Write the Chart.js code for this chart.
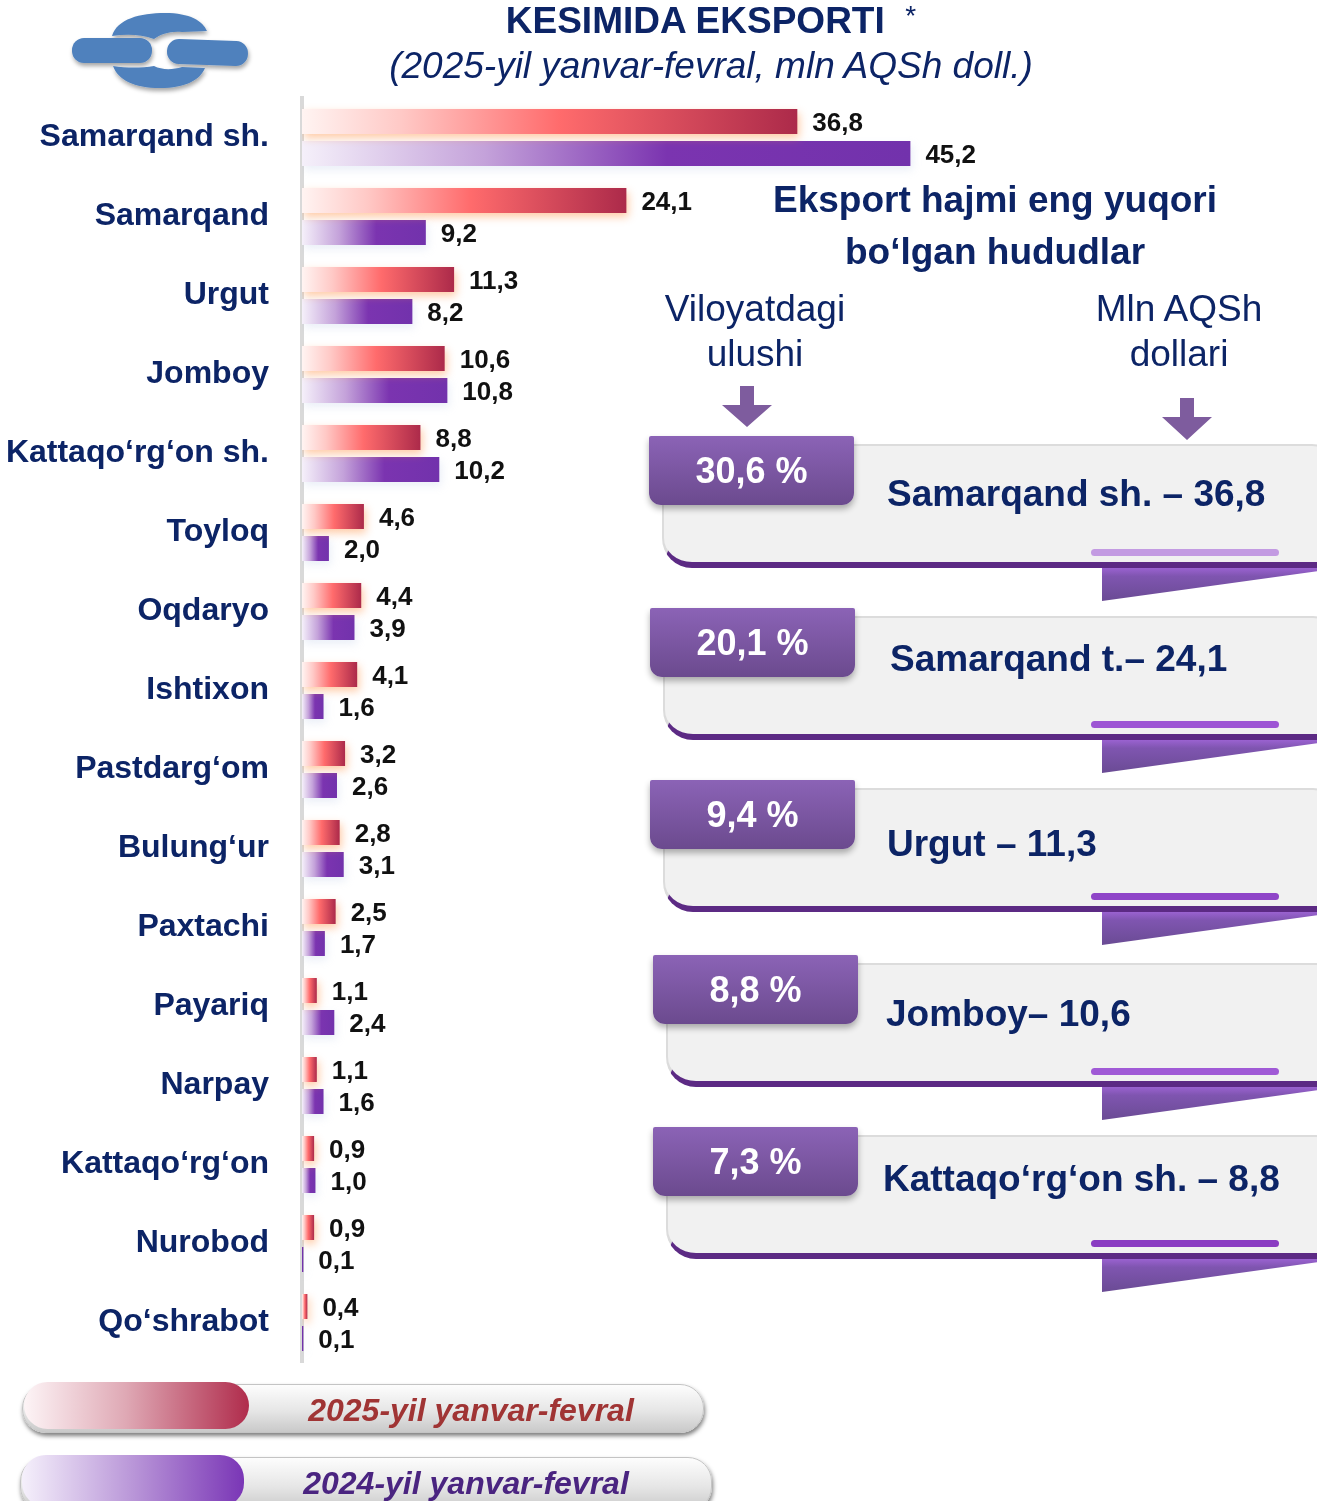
<!DOCTYPE html>
<html lang="uz">
<head>
<meta charset="UTF-8">
<title>Kesimida eksporti</title>
<script src="https://cdn.jsdelivr.net/npm/chart.js"></script>
<style>
    body { margin: 0; background: #fff; font-family: 'Liberation Sans', Arial, sans-serif; }
    #page { position: relative; width: 1317px; height: 1501px; overflow: hidden; background: #fff; }
    #chart { position: absolute; left: 0; top: 0; }
    .txt { position: absolute; white-space: nowrap; transform: translate(-50%, -50%); color: #0c2466; line-height: 1; }
    .b { font-weight: bold; }
    .tab { position: absolute; width: 205px; height: 69px; background: linear-gradient(#8b63b6, #6b4a8e); border-radius: 2px 2px 12px 12px; box-shadow: 0 4px 6px rgba(0,0,0,0.3); color: #fff; font-weight: bold; font-size: 36px; display: flex; align-items: center; justify-content: center; z-index: 2; }
    .card { position: absolute; width: 690px; height: 124px; background: #f1f1f1; border: 2px solid #dcdcdc; border-bottom: 6px solid #5c2a84; border-radius: 0 40px 0 30px; box-sizing: border-box; }
    .cardtxt { position: absolute; white-space: nowrap; transform: translateY(-50%); color: #0c2466; font-weight: bold; font-size: 37px; line-height: 1; z-index: 3; }
    .pill { position: absolute; left: 1091px; width: 188px; height: 7px; border-radius: 4px; }
    .fold { position: absolute; left: 1102px; width: 215px; height: 33px; background: linear-gradient(#9a62d0 0%, #7f55b0 25%, #6a4b94 100%); clip-path: polygon(0 0, 100% 0, 100% 10%, 0 100%); }
    .leg { position: absolute; height: 47px; border-radius: 24px; background: linear-gradient(#fdfdfd, #e6e6e6 55%, #c9c9c9); border: 1px solid #c4c4c4; box-shadow: 1px 3px 4px rgba(0,0,0,0.5); }
    .legc { position: absolute; left: 1px; top: -3px; height: 47px; border-radius: 24px; }
    .legt { position: absolute; top: 50%; transform: translate(-50%, -50%); font-weight: bold; font-style: italic; font-size: 32px; white-space: nowrap; }
</style>
</head>
<body>
<div id="page">
    <canvas id="chart" width="1317" height="1501"></canvas>

    <svg style="position:absolute;left:0;top:0" width="300" height="100">
        <defs>
            <filter id="sh" x="-20%" y="-20%" width="140%" height="160%">
                <feDropShadow dx="1" dy="3" stdDeviation="2" flood-color="#000" flood-opacity="0.35"/>
            </filter>
        </defs>
        <g fill="#4f81bd" filter="url(#sh)">
            <path d="M112,36 C117,19 140,13 165,13 C190,13 203,21 207,31 L182,32 C170,31 161,34 154,39 C140,34 126,34 112,36 Z"/>
            <rect x="72" y="38" width="80" height="25" rx="12"/>
            <rect x="167" y="40" width="81" height="25" rx="12" transform="rotate(2 207 52)"/>
            <path d="M113,66 C127,68 141,68 154,66 C162,70 172,70 182,67 L205,68 C200,80 186,88 160,88 C134,88 118,80 113,66 Z"/>
        </g>
    </svg>

    <div class="txt b" style="left:711px;top:20px;font-size:37px">KESIMIDA EKSPORTI&nbsp;&nbsp;<span style="font-weight:normal;font-size:28px;vertical-align:top">*</span></div>
    <div class="txt" style="left:711px;top:65px;font-size:37px;font-style:italic">(2025-yil yanvar-fevral, mln AQSh doll.)</div>

    <div class="txt b" style="left:995px;top:199px;font-size:37px">Eksport hajmi eng yuqori</div>
    <div class="txt b" style="left:995px;top:251px;font-size:37px">bo‘lgan hududlar</div>
    <div class="txt" style="left:755px;top:308px;font-size:37px">Viloyatdagi</div>
    <div class="txt" style="left:755px;top:353px;font-size:37px">ulushi</div>
    <div class="txt" style="left:1179px;top:308px;font-size:37px">Mln AQSh</div>
    <div class="txt" style="left:1179px;top:353px;font-size:37px">dollari</div>

    <svg style="position:absolute;left:0;top:0;pointer-events:none" width="1317" height="460">
        <polygon fill="#7e5c9e" points="740,386 754,386 754,405 772,405 747,427 722,405 740,405"/>
        <polygon fill="#7e5c9e" points="1180,398 1194,398 1194,417 1212,417 1187,440 1162,417 1180,417"/>
    </svg>

    <div id="cards"></div>

    <div class="leg" style="left:22px;top:1384px;width:680px">
        <div class="legc" style="width:225px;background:linear-gradient(90deg,#fdf4f6,#dfa9b5 45%,#b02c4c)"></div>
        <div class="legt" id="leg0" style="left:448px;top:25px;color:#a03434"></div>
    </div>
    <div class="leg" style="left:20px;top:1457px;width:690px;height:52px">
        <div class="legc" style="width:222px;height:52px;background:linear-gradient(90deg,#f5f0fb,#b996d8 50%,#7a36b6)"></div>
        <div class="legt" id="leg1" style="left:445px;top:25px;color:#4a2480"></div>
    </div>
</div>

<script>
    // datos
    const categories = ['Samarqand sh.', 'Samarqand', 'Urgut', 'Jomboy', 'Kattaqo‘rg‘on sh.', 'Toyloq', 'Oqdaryo', 'Ishtixon',
        'Pastdarg‘om', 'Bulung‘ur', 'Paxtachi', 'Payariq', 'Narpay', 'Kattaqo‘rg‘on', 'Nurobod', 'Qo‘shrabot'];
    const values2025 = [36.8, 24.1, 11.3, 10.6, 8.8, 4.6, 4.4, 4.1, 3.2, 2.8, 2.5, 1.1, 1.1, 0.9, 0.9, 0.4];
    const values2024 = [45.2, 9.2, 8.2, 10.8, 10.2, 2.0, 3.9, 1.6, 2.6, 3.1, 1.7, 2.4, 1.6, 1.0, 0.1, 0.1];
    const seriesNames = ['2025-yil yanvar-fevral', '2024-yil yanvar-fevral'];
    const topShares = ['30,6 %', '20,1 %', '9,4 %', '8,8 %', '7,3 %'];
    const topLabels = ['Samarqand sh. – 36,8', 'Samarqand t.– 24,1', 'Urgut – 11,3', 'Jomboy– 10,6', 'Kattaqo‘rg‘on sh. – 8,8'];

    // layout of the cards on the right
    const cardTop = [436, 608, 780, 955, 1127];
    const tabLeft = [649, 650, 650, 653, 653];
    const textLeft = [887, 890, 887, 886, 883];
    const textDy = [57, 50, 63, 58, 51];
    const pillColor = ['#c39be2', '#9d55d4', '#8f45c8', '#a05ad6', '#8a3cc2'];

    document.getElementById('leg0').textContent = seriesNames[0];
    document.getElementById('leg1').textContent = seriesNames[1];

    const cards = document.getElementById('cards');
    topShares.forEach((s, i) => {
        const t = cardTop[i];
        cards.insertAdjacentHTML('beforeend',
            `<div class="card" style="top:${t + 8}px;left:${tabLeft[i] + 13}px"></div>` +
            `<div class="pill" style="top:${t + 113}px;background:${pillColor[i]}"></div>` +
            `<div class="fold" style="top:${t + 132}px"></div>` +
            `<div class="tab" style="top:${t}px;left:${tabLeft[i]}px">${s}</div>` +
            `<div class="cardtxt" style="top:${t + textDy[i]}px;left:${textLeft[i]}px">${topLabels[i]}</div>`);
    });

    const fmt = v => v.toFixed(1).replace('.', ',');

    function barFill(c, stops) {
        const chart = c.chart;
        if (!chart.chartArea || c.type !== 'data') return stops[stops.length - 1][1];
        const x0 = chart.scales.x.getPixelForValue(0);
        const x1 = chart.scales.x.getPixelForValue(c.raw);
        if (x1 - x0 < 2) return stops[stops.length - 1][1];
        const g = chart.ctx.createLinearGradient(x0, 0, x1, 0);
        stops.forEach(s => g.addColorStop(s[0], s[1]));
        return g;
    }
    const redStops = [[0, '#fff4f2'], [0.2, '#ffc9c6'], [0.52, '#ff6b6c'], [1, '#ac2a4a']];
    const purpleStops = [[0, '#f5f0fa'], [0.3, '#c4a2da'], [0.6, '#7b34b0'], [1, '#7232ac']];

    // sombra de las barras
    const barShadow = {
        id: 'barShadow',
        beforeDatasetDraw(chart, args) {
            const ctx = chart.ctx;
            ctx.save();
            ctx.shadowColor = args.index === 0 ? 'rgba(255,140,60,0.45)' : 'rgba(160,180,220,0.22)';
            ctx.shadowBlur = 8;
            ctx.shadowOffsetX = 2;
            ctx.shadowOffsetY = 4;
        },
        afterDatasetDraw(chart) { chart.ctx.restore(); }
    };

    // etiquetas de valores
    const valueLabels = {
        id: 'valueLabels',
        afterDatasetsDraw(chart) {
            const ctx = chart.ctx;
            ctx.save();
            ctx.font = 'bold 26px "Liberation Sans", Arial, sans-serif';
            ctx.fillStyle = '#111';
            ctx.textBaseline = 'middle';
            ctx.textAlign = 'left';
            chart.data.datasets.forEach((ds, i) => {
                chart.getDatasetMeta(i).data.forEach((el, j) => {
                    ctx.fillText(fmt(ds.data[j]), el.x + 15, el.y + 2);
                });
            });
            ctx.restore();
        }
    };

    new Chart(document.getElementById('chart'), {
        type: 'bar',
        data: {
            labels: categories,
            datasets: [
                { label: seriesNames[0], data: values2025, backgroundColor: c => barFill(c, redStops) },
                { label: seriesNames[1], data: values2024, backgroundColor: c => barFill(c, purpleStops) }
            ]
        },
        options: {
            indexAxis: 'y',
            responsive: false,
            animation: false,
            events: [],
            datasets: { bar: { categoryPercentage: 0.81, barPercentage: 0.78 } },
            layout: { padding: { top: 98, bottom: 139, left: 0, right: 342 } },
            plugins: { legend: { display: false }, tooltip: { enabled: false } },
            scales: {
                x: { display: false, min: 0, max: 50 },
                y: {
                    afterFit: s => { s.width = 302; },
                    grid: { display: false, drawTicks: false },
                    border: { display: true, color: '#d9d9d9', width: 4 },
                    ticks: { padding: 33, color: '#0c2466', font: { family: 'Liberation Sans', size: 32, weight: 'bold' } }
                }
            }
        },
        plugins: [barShadow, valueLabels]
    });
</script>
</body>
</html>
